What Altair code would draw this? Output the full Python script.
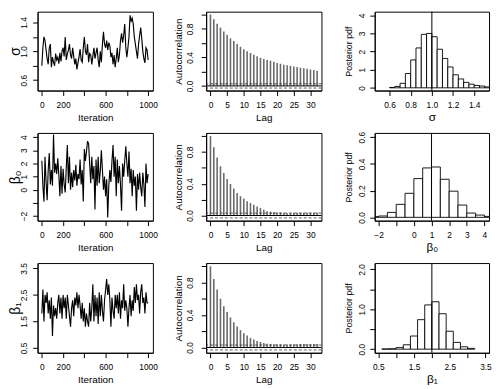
import altair as alt
import pandas as pd

FONT = "Liberation Sans"

# ---------------- data ----------------
ITER_STEP = 10  # one value read every 10 iterations (0..1000)

sigma_trace = [0.80, 1.05, 1.20, 1.15, 1.02, 0.90, 0.82, 1.05, 1.10, 0.78,
               0.92, 0.85, 0.80, 0.97, 0.88, 0.92, 0.83, 0.98, 0.86, 1.00,
               1.05, 0.93, 1.20, 0.88, 0.96, 1.02, 1.10, 0.95, 0.90, 1.05,
               0.93, 0.82, 0.90, 0.75, 0.84, 0.92, 1.03, 0.88, 0.85, 1.05,
               1.20, 1.00, 0.95, 1.10, 0.85, 0.97, 0.95, 0.82, 0.93, 1.05,
               0.90, 0.98, 1.05, 0.88, 0.78, 1.00, 0.85, 1.10, 1.27, 1.10,
               1.05, 1.15, 1.02, 1.12, 1.08, 0.92, 0.98, 0.82, 0.95, 0.78,
               0.90, 1.05, 0.85, 0.95, 1.15, 1.25, 1.12, 1.22, 1.38, 1.05,
               0.92, 1.05, 1.20, 1.50, 1.42, 1.46, 1.38, 1.20, 1.10, 1.00,
               0.90, 1.10, 1.22, 1.33, 1.18, 1.00, 0.90, 0.84, 1.05, 1.02,
               0.88]

beta0_trace = [2.2, 0.3, -0.9, 2.5, 0.6, -0.8, 1.5, 2.8, 0.4, 1.5,
               0.3, 4.2, 1.3, 2.0, 1.2, 2.4, 1.1, -0.5, 1.8, -0.3,
               1.6, 0.4, -0.2, 1.7, 3.4, 0.5, 2.5, 0.0, 1.3, 0.2,
               1.5, 0.7, 1.9, 0.3, 1.2, 0.8, 2.3, 0.4, 1.5, -0.9,
               3.1, 2.2, 2.9, 3.7, 3.5, 2.0, 0.5, 2.5, 0.8, 1.8,
               -1.5, 2.3, 0.3, 2.5, 0.5, 1.4, 3.0, 1.5, 0.0, 1.0,
               -0.5, 0.8, -2.1, 0.3, 1.5, 0.6, 2.2, 3.4, 1.0, 2.5,
               -0.5, 2.3, 0.5, 1.8, 0.4, -1.6, 2.0, 1.0, 2.2, 3.3,
               2.0, 1.0, 2.9, 0.5, 1.6, -0.5, 1.5, 0.3, 1.0, -1.6,
               1.2, 0.0, 1.3, 0.2, -0.5, 1.3, 0.4, -1.3, 2.0, 0.5,
               1.2]

beta1_trace = [1.8, 2.7, 1.5, 2.5, 2.2, 2.6, 1.8, 2.3, 1.6, 2.4,
               0.95, 2.1, 1.7, 2.0, 1.6, 2.2, 2.5, 1.8, 2.4, 1.6,
               2.5, 2.0, 2.4, 1.6, 2.5, 2.1, 1.7, 1.3, 2.0, 2.3,
               1.7, 2.4, 2.1, 2.6, 2.0, 2.5, 2.1, 1.6, 2.2, 1.5,
               2.0, 1.3, 1.8, 1.5, 1.3, 2.2, 1.5, 2.0, 2.9, 1.5,
               2.5, 1.7, 2.4, 1.4, 2.6, 1.7, 2.5, 1.9, 1.5, 2.3,
               2.7, 3.1, 2.5, 2.9, 2.3, 1.3, 2.4, 1.9, 1.6, 2.5,
               2.0, 2.5, 1.8, 2.6, 1.6, 2.3, 2.0, 2.9, 1.9, 2.3,
               2.0, 1.3, 2.0, 2.5, 1.7, 2.3, 1.9, 2.8, 2.2, 2.9,
               2.3, 2.5, 1.8, 2.6, 2.9, 2.2, 2.4, 1.8, 2.6, 2.2,
               2.2]

lags = list(range(33))
acf_sigma = [1.0, 0.934, 0.87, 0.817, 0.762, 0.716, 0.666, 0.628, 0.586, 0.549,
             0.515, 0.486, 0.461, 0.436, 0.415, 0.394, 0.377, 0.364, 0.352, 0.339,
             0.322, 0.31, 0.297, 0.289, 0.281, 0.272, 0.264, 0.255, 0.247, 0.239,
             0.23, 0.222, 0.214]
acf_beta0 = [1.0, 0.86, 0.73, 0.62, 0.536, 0.46, 0.396, 0.34, 0.285, 0.243,
             0.213, 0.179, 0.157, 0.136, 0.115, 0.094, 0.072, 0.055, 0.047, 0.043,
             0.038, 0.038, 0.034, 0.03, 0.03, 0.034, 0.034, 0.034, 0.034, 0.034,
             0.034, 0.034, 0.034]
acf_beta1 = [1.0, 0.845, 0.714, 0.6, 0.508, 0.437, 0.37, 0.31, 0.26, 0.214,
             0.176, 0.147, 0.118, 0.097, 0.08, 0.067, 0.055, 0.046, 0.042, 0.04,
             0.04, 0.038, 0.038, 0.036, 0.038, 0.04, 0.04, 0.042, 0.042, 0.042,
             0.042, 0.042, 0.042]
acf_ci = [0.03, -0.03]

sigma_edges = [0.60, 0.65, 0.70, 0.75, 0.80, 0.85, 0.90, 0.95, 1.00, 1.05,
               1.10, 1.15, 1.20, 1.25, 1.30, 1.35, 1.40, 1.45, 1.50, 1.55]
sigma_density = [0.02, 0.08, 0.25, 0.79, 1.54, 2.2, 2.95, 3.0, 2.82, 2.13,
                 1.62, 1.15, 0.72, 0.49, 0.3, 0.2, 0.13, 0.1, 0.05]
beta0_edges = [-2.5, -2.0, -1.5, -1.0, -0.5, 0.0, 0.5, 1.0, 1.5, 2.0,
               2.5, 3.0, 3.5, 4.0, 4.5]
beta0_density = [0.005, 0.01, 0.037, 0.097, 0.18, 0.29, 0.37, 0.377, 0.285,
                 0.196, 0.092, 0.032, 0.017, 0.007]
beta1_edges = [0.6, 0.8, 1.0, 1.2, 1.4, 1.6, 1.8, 2.0, 2.2, 2.4, 2.6, 2.8, 3.0, 3.2]
beta1_density = [0.005, 0.01, 0.04, 0.11, 0.33, 0.74, 1.11, 1.19, 0.89, 0.45,
                 0.17, 0.06, 0.02]

true_sigma = [1.0]
true_beta0 = [1.0]
true_beta1 = [2.0]

param_names = ["σ", "β₀", "β₁"]

# ---------------- helpers ----------------
ROW_H = [80, 89, 91]
W = [117, 117, 116]


def hide_expr(hidden):
    if not hidden:
        return "datum.label"
    cond = " || ".join(f"abs(datum.value - ({h})) < 1e-9" for h in hidden)
    return f"({cond}) ? '' : datum.label"


def yaxis(title, values, hidden, fmt, label_pad, title_pad, title_size):
    return alt.Axis(values=values, title=title, format=fmt,
                    labelExpr=hide_expr(hidden), labelAngle=270,
                    labelAlign="center", labelBaseline="bottom",
                    labelPadding=label_pad, titlePadding=title_pad,
                    titleFontSize=title_size)


def xaxis(title, values, hidden, fmt, title_size=10, title_pad=4):
    return alt.Axis(values=values, title=title, format=fmt,
                    labelExpr=hide_expr(hidden), labelAngle=0,
                    labelPadding=5, titlePadding=title_pad,
                    titleFontSize=title_size)


def trace_panel(vals, title, ydom, yticks, yhidden, yfmt, h):
    df = pd.DataFrame({"iteration": [i * ITER_STEP for i in range(len(vals))],
                       "value": vals})
    return alt.Chart(df).mark_line(color="black", strokeWidth=1.15, clip=True).encode(
        x=alt.X("iteration:Q",
                scale=alt.Scale(domain=[-40, 1045], nice=False, zero=False),
                axis=xaxis("Iteration", [0, 200, 400, 600, 800, 1000], [400, 800], "d")),
        y=alt.Y("value:Q",
                scale=alt.Scale(domain=ydom, nice=False, zero=False),
                axis=yaxis(title, yticks, yhidden, yfmt, 4, -3, 14)),
    ).properties(width=W[0], height=h)


def acf_panel(acf, h):
    ydef = alt.Y("v:Q", scale=alt.Scale(domain=[-0.065, 1.04], nice=False, zero=False),
                 axis=yaxis("Autocorrelation", [0, 0.2, 0.4, 0.6, 0.8, 1.0],
                            [0.2, 0.6, 1.0], ".1f", 7, 1.5, 10))
    xdef = alt.X("lag:Q", scale=alt.Scale(domain=[-1.3, 33.3], nice=False, zero=False),
                 axis=xaxis("Lag", [0, 5, 10, 15, 20, 25, 30], [], "d"))
    df = pd.DataFrame({"lag": lags, "v": acf})
    bars = alt.Chart(df).mark_rule(color="#6a6a6a", strokeWidth=1.6).encode(
        x=xdef, y=ydef, y2=alt.datum(0))
    zero = alt.Chart(pd.DataFrame({"v": [0.0]})).mark_rule(
        color="black", strokeWidth=1).encode(y=ydef)
    ci = alt.Chart(pd.DataFrame({"v": acf_ci})).mark_rule(
        color="#333333", strokeWidth=0.8, strokeDash=[3, 2]).encode(y=ydef)
    return alt.layer(bars, zero, ci).properties(width=W[1], height=h)


def hist_panel(edges, dens, truth, title, xdom, xticks, xhidden, xfmt,
               ydom, yticks, yhidden, yfmt, h):
    df = pd.DataFrame({"lo": edges[:-1], "hi": edges[1:], "d": dens})
    xdef = alt.X("lo:Q", scale=alt.Scale(domain=xdom, nice=False, zero=False),
                 axis=xaxis(title, xticks, xhidden, xfmt, 12, 3))
    ydef = alt.Y("d:Q", scale=alt.Scale(domain=ydom, nice=False, zero=False),
                 axis=yaxis("Posterior pdf", yticks, yhidden, yfmt, 3, 5, 9))
    bars = alt.Chart(df).mark_rect(fill="white", stroke="black", strokeWidth=0.9,
                                   clip=True).encode(
        x=xdef, x2="hi:Q", y=ydef, y2=alt.datum(0))
    vline = alt.Chart(pd.DataFrame({"lo": truth})).mark_rule(
        color="black", strokeWidth=1).encode(x=xdef)
    return alt.layer(bars, vline).properties(width=W[2], height=h)


panels = [
    trace_panel(sigma_trace, param_names[0], [0.456, 1.55],
                [0.6, 0.8, 1.0, 1.2, 1.4], [0.8, 1.2], ".1f", ROW_H[0]),
    acf_panel(acf_sigma, ROW_H[0]),
    hist_panel(sigma_edges, sigma_density, true_sigma, param_names[0],
               [0.46, 1.54], [0.6, 0.8, 1.0, 1.2, 1.4], [], ".1f",
               [-0.15, 4.2], [0, 1, 2, 3, 4], [], "d", ROW_H[0]),
    trace_panel(beta0_trace, param_names[1], [-2.35, 4.32],
                [-2, -1, 0, 1, 2, 3, 4], [-1], "d", ROW_H[1]),
    acf_panel(acf_beta0, ROW_H[1]),
    hist_panel(beta0_edges, beta0_density, true_beta0, param_names[1],
               [-2.22, 4.26], [-2, -1, 0, 1, 2, 3, 4], [-1], "d",
               [-0.025, 0.632], [0, 0.2, 0.4, 0.6], [], ".1f", ROW_H[1]),
    trace_panel(beta1_trace, param_names[2], [0.32, 3.7],
                [0.5, 1.5, 2.5, 3.5], [], ".1f", ROW_H[2]),
    acf_panel(acf_beta1, ROW_H[2]),
    hist_panel(beta1_edges, beta1_density, true_beta1, param_names[2],
               [0.4, 3.6], [0.5, 1.0, 1.5, 2.0, 2.5, 3.0, 3.5], [1.0, 2.0, 3.0], ".1f",
               [-0.09, 2.16], [0, 0.5, 1.0, 1.5, 2.0], [0.5, 1.5], ".1f", ROW_H[2]),
]

chart = alt.concat(
    *panels, columns=3, bounds="flush",
    spacing=alt.RowColnumber(row=43, column=54),
).properties(
    padding={"left": 0, "top": 0, "right": 0, "bottom": 0},
    background="white",
).configure_view(
    stroke="black", strokeWidth=1,
).configure_axis(
    grid=False, domain=True, domainColor="black", domainWidth=1,
    tickColor="black", tickSize=5, tickWidth=1,
    labelColor="black", titleColor="black",
    labelFont=FONT, titleFont=FONT, labelFontSize=8.5,
    titleFontWeight="normal", labelOverlap=False,
)

chart.save("out.html", embed_options={"renderer": "svg", "actions": False})
